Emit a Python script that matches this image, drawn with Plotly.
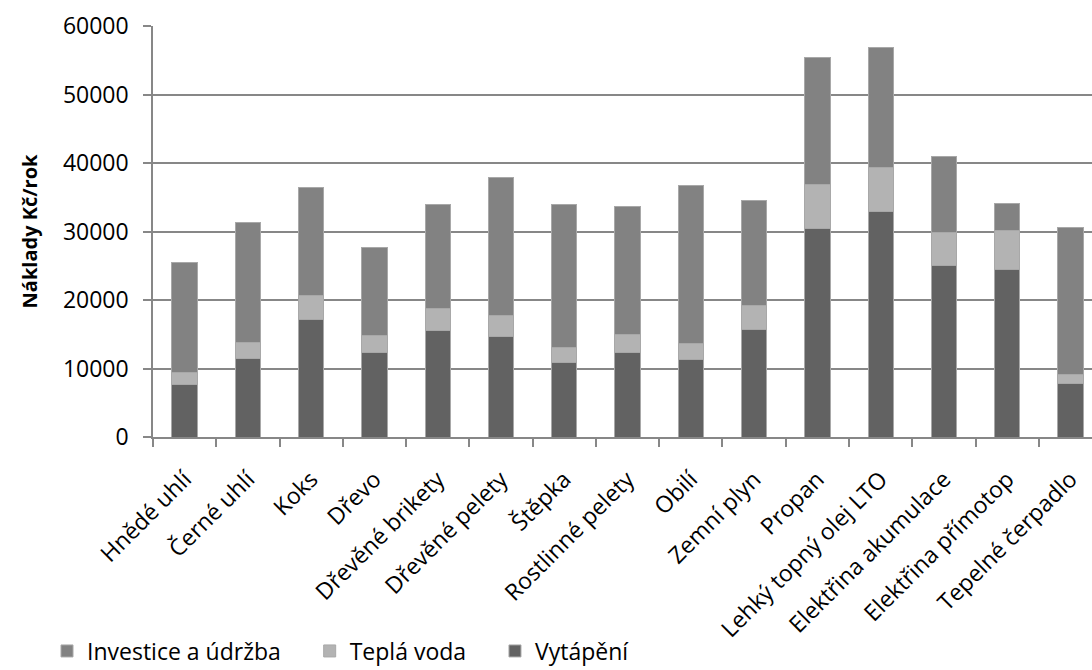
import plotly.graph_objects as go

categories = [
    "Hnědé uhlí", "Černé uhlí", "Koks", "Dřevo", "Dřevěné brikety",
    "Dřevěné pelety", "Štěpka", "Rostlinné pelety", "Obilí", "Zemní plyn",
    "Propan", "Lehký topný olej LTO", "Elektřina akumulace",
    "Elektřina přímotop", "Tepelné čerpadlo",
]

# Annual costs (Kč/rok) per heating source
vytapeni = [7700, 11400, 17150, 12350, 15600, 14700, 10900, 12350, 11350,
            15700, 30450, 32950, 25050, 24500, 7850]
tepla_voda = [1700, 2400, 3500, 2500, 3200, 3050, 2200, 2650, 2350,
              3500, 6450, 6400, 4850, 5650, 1300]
investice = [16100, 17550, 15750, 12800, 15150, 20200, 20900, 18700, 23050,
             15300, 18500, 17550, 11050, 4000, 21450]

y_ticks = [0, 10000, 20000, 30000, 40000, 50000, 60000]

FONT = "Open Sans"
grid = "#878787"
edge = dict(color="#a8a8a8", width=1)
pad = "\u00a0" * 4  # spacing between legend entries

fig = go.Figure()
fig.add_trace(go.Bar(name="Vytápění", x=categories, y=vytapeni,
                     marker=dict(color="#626262", line=edge)))
fig.add_trace(go.Bar(name="Teplá voda" + pad, x=categories, y=tepla_voda,
                     marker=dict(color="#b3b3b3", line=edge)))
fig.add_trace(go.Bar(name="Investice a údržba" + pad, x=categories, y=investice,
                     marker=dict(color="#828282", line=edge)))

fig.update_layout(
    barmode="stack",
    bargap=0.6,
    width=1092,
    height=670,
    margin=dict(l=153, r=0, t=26, b=233, autoexpand=False),
    paper_bgcolor="white",
    plot_bgcolor="white",
    font=dict(family=FONT, size=22, color="#000000"),
    legend=dict(
        orientation="h",
        traceorder="reversed",
        x=(47 - 153) / 939, xref="paper", xanchor="left",
        y=(437 - 651) / 411, yref="paper", yanchor="middle",
        font=dict(family=FONT, size=23),
        itemwidth=30,
        tracegroupgap=0,
    ),
    xaxis=dict(
        type="category",
        range=[-0.5, 14.34],
        automargin=False,
        tickangle=-45,
        ticks="outside",
        tickson="boundaries",
        ticklen=8,
        tickcolor=grid,
        tickwidth=1.5,
        ticklabelstandoff=18,
        showline=True,
        linecolor=grid,
        linewidth=1.5,
        showgrid=False,
        tickfont=dict(family=FONT, size=23),
    ),
    yaxis=dict(
        range=[0, 60000],
        automargin=False,
        tickvals=y_ticks,
        ticktext=[str(v) for v in y_ticks],
        ticks="outside",
        ticklen=8,
        tickcolor=grid,
        tickwidth=1.5,
        ticklabelstandoff=10,
        showline=True,
        linecolor=grid,
        linewidth=1.5,
        showgrid=True,
        gridcolor=grid,
        gridwidth=1.5,
        zeroline=False,
        tickfont=dict(family=FONT, size=23),
        title=dict(text="<b>Náklady Kč/rok</b>",
                   font=dict(family=FONT, size=20), standoff=20),
    ),
)

fig.write_html("out.html")
